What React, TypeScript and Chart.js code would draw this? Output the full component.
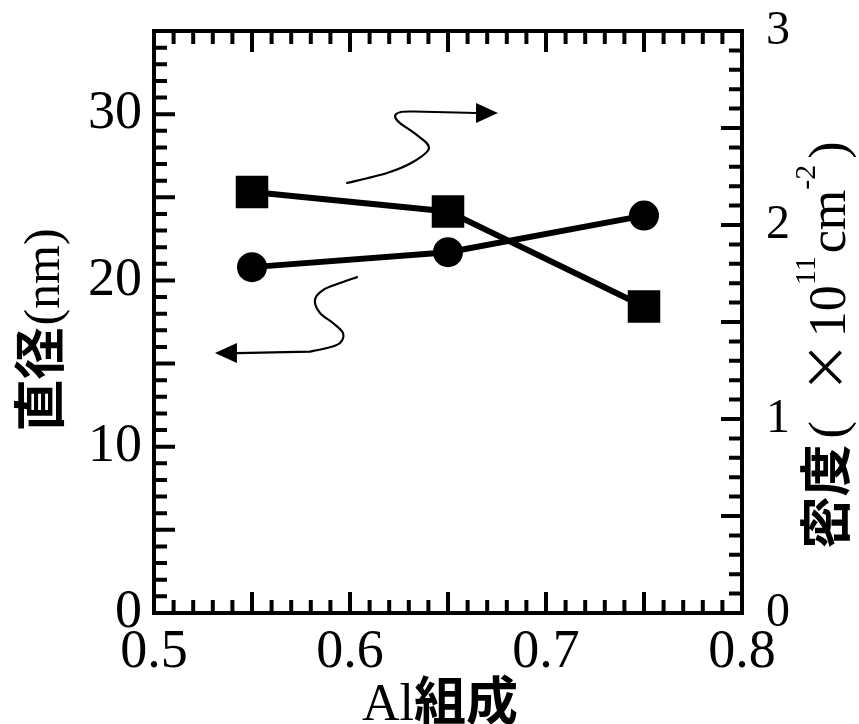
import React, { useEffect, useRef } from 'react';
import { Chart, registerables } from 'chart.js';

Chart.register(...registerables);

// ---- data ----
const alComposition = [0.55, 0.65, 0.75];
const diameterNm = [20.8, 21.7, 23.9];
const densityE11 = [2.17, 2.07, 1.58];

const xTickValues = [0.5, 0.6, 0.7, 0.8];
const leftTickValues = [0, 10, 20, 30];
const rightTickValues = [0, 1, 2, 3];

// annotation arrows, in data units (x = Al composition, y = diameter axis)
const densityArrowCurve = [
  [0.5985, 25.86], [0.6189, 26.46], [0.6321, 27.12], [0.6403, 27.96],
  [0.6342, 28.74], [0.6255, 29.46], [0.623, 29.89], [0.626, 30.13], [0.6327, 30.16],
];
const densityArrowShaftEnd = [0.6643, 30.07];
const densityArrowTip = [0.6755, 30.07];

const diameterArrowCurve = [
  [0.6036, 20.2], [0.5949, 19.84], [0.5862, 19.42], [0.5821, 18.82],
  [0.5847, 18.04], [0.5913, 17.44], [0.5964, 16.84], [0.5949, 16.24],
  [0.5883, 15.94], [0.5796, 15.72],
];
const diameterArrowShaftEnd = [0.5423, 15.63];
const diameterArrowTip = [0.5311, 15.63];

const SERIF = '"Liberation Serif", "Times New Roman", serif';
const CJK = '"Noto Sans CJK JP", "Noto Sans CJK SC", sans-serif';

type Run = { text: string; font: string; dy?: number; gap?: number };

function drawRuns(ctx: CanvasRenderingContext2D, runs: Run[], cx: number, cy: number, rotate: boolean) {
  ctx.save();
  ctx.translate(cx, cy);
  if (rotate) ctx.rotate(-Math.PI / 2);
  ctx.textBaseline = 'alphabetic';
  ctx.textAlign = 'left';
  ctx.fillStyle = '#000';
  let total = 0;
  const widths = runs.map((r) => {
    ctx.font = r.font;
    const w = ctx.measureText(r.text).width;
    total += (r.gap || 0) + w;
    return w;
  });
  let x = -total / 2;
  runs.forEach((r, i) => {
    x += r.gap || 0;
    ctx.font = r.font;
    ctx.fillText(r.text, x, r.dy || 0);
    x += widths[i];
  });
  ctx.restore();
}

function drawArrow(chart: any, curve: number[][], shaftEnd: number[], tip: number[]) {
  const ctx: CanvasRenderingContext2D = chart.ctx;
  const xs = chart.scales.x;
  const ys = chart.scales.y;
  const P = (p: number[]) => [xs.getPixelForValue(p[0]), ys.getPixelForValue(p[1])];
  const pts = curve.map(P);
  ctx.save();
  ctx.strokeStyle = '#000';
  ctx.lineWidth = 2.2;
  ctx.lineCap = 'round';
  ctx.beginPath();
  ctx.moveTo(pts[0][0], pts[0][1]);
  for (let i = 0; i < pts.length - 1; i++) {
    const p0 = pts[i - 1] || pts[i];
    const p1 = pts[i];
    const p2 = pts[i + 1];
    const p3 = pts[i + 2] || p2;
    ctx.bezierCurveTo(
      p1[0] + (p2[0] - p0[0]) / 6, p1[1] + (p2[1] - p0[1]) / 6,
      p2[0] - (p3[0] - p1[0]) / 6, p2[1] - (p3[1] - p1[1]) / 6,
      p2[0], p2[1]
    );
  }
  const se = P(shaftEnd);
  const tp = P(tip);
  ctx.lineTo(se[0], se[1]);
  ctx.stroke();
  ctx.fillStyle = '#000';
  ctx.beginPath();
  ctx.moveTo(tp[0], tp[1]);
  ctx.lineTo(se[0], se[1] - 10);
  ctx.lineTo(se[0], se[1] + 10);
  ctx.closePath();
  ctx.fill();
  ctx.restore();
}

const decorPlugin = {
  id: 'decor',
  afterDatasetsDraw(chart: any) {
    const ctx: CanvasRenderingContext2D = chart.ctx;
    const { left, right, top, bottom } = chart.chartArea;
    const xs = chart.scales.x;
    const ys = chart.scales.y;
    const y1 = chart.scales.y1;
    ctx.save();
    ctx.strokeStyle = '#000';
    ctx.lineWidth = 4;
    ctx.lineCap = 'butt';
    const minor = 13;
    const major = 21;
    ctx.beginPath();
    for (let k = 1; k < 30; k++) {
      const v = 0.5 + k * 0.01;
      const px = xs.getPixelForValue(v);
      const len = k % 5 === 0 ? major : minor;
      ctx.moveTo(px, bottom); ctx.lineTo(px, bottom - len);
      ctx.moveTo(px, top); ctx.lineTo(px, top + len);
    }
    for (let k = 1; k < 35; k++) {
      const py = ys.getPixelForValue(k);
      const len = k % 5 === 0 ? major : minor;
      ctx.moveTo(left, py); ctx.lineTo(left + len, py);
    }
    for (let k = 1; k < 30; k++) {
      const py = y1.getPixelForValue(k / 10);
      const len = k % 5 === 0 ? major : minor;
      ctx.moveTo(right, py); ctx.lineTo(right - len, py);
    }
    ctx.stroke();
    ctx.strokeRect(left, top, right - left, bottom - top);
    ctx.restore();

    drawArrow(chart, densityArrowCurve, densityArrowShaftEnd, densityArrowTip);
    drawArrow(chart, diameterArrowCurve, diameterArrowShaftEnd, diameterArrowTip);

    const cjkB = `bold 52px ${CJK}`;
    const serif = `52px ${SERIF}`;
    const sup = `30px ${SERIF}`;
    drawRuns(ctx, [
      { text: 'Al', font: serif },
      { text: '組成', font: cjkB },
    ], (left + right) / 2 - 8, 720, false);
    drawRuns(ctx, [
      { text: '直径', font: cjkB },
      { text: '(nm)', font: `50px ${SERIF}`, gap: 2 },
    ], 59, 330, true);
    drawRuns(ctx, [
      { text: '密度', font: cjkB },
      { text: '(', font: serif, gap: 6 },
      { text: '×', font: `52px ${CJK}`, gap: 28 },
      { text: '10', font: serif, gap: 4 },
      { text: '11', font: sup, dy: -30 },
      { text: 'cm', font: serif, gap: 3 },
      { text: '-2', font: sup, dy: -30 },
      { text: ')', font: serif, gap: 6 },
    ], 845, 345, true);
  },
};

export default function App() {
  const ref = useRef<HTMLCanvasElement | null>(null);
  useEffect(() => {
    if (!ref.current) return;
    const tickFont = { family: SERIF, size: 54, lineHeight: 1 };
    const noPadV = (s: any) => { s.paddingTop = 0; s.paddingBottom = 0; };
    const noPadH = (s: any) => { s.paddingLeft = 0; s.paddingRight = 0; };
    const chart = new Chart(ref.current, {
      type: 'line',
      data: {
        datasets: [
          {
            label: '直径',
            data: alComposition.map((x, i) => ({ x, y: diameterNm[i] })),
            yAxisID: 'y',
            borderColor: '#000',
            borderWidth: 6,
            pointStyle: 'circle',
            pointRadius: 15,
            pointBackgroundColor: '#000',
            pointBorderWidth: 0,
            tension: 0,
          },
          {
            label: '密度',
            data: alComposition.map((x, i) => ({ x, y: densityE11[i] })),
            yAxisID: 'y1',
            borderColor: '#000',
            borderWidth: 6,
            pointStyle: 'rect',
            pointRadius: 23,
            pointBackgroundColor: '#000',
            pointBorderWidth: 0,
            tension: 0,
          },
        ],
      },
      options: {
        responsive: false,
        maintainAspectRatio: false,
        animation: false,
        layout: { padding: 0 },
        plugins: { legend: { display: false }, tooltip: { enabled: false } },
        scales: {
          x: {
            type: 'linear',
            position: 'bottom',
            min: 0.5,
            max: 0.8,
            grid: { display: false },
            border: { display: false },
            afterBuildTicks: (s: any) => { s.ticks = xTickValues.map((v) => ({ value: v })); },
            ticks: { color: '#000', font: tickFont, padding: 5, maxRotation: 0, autoSkip: false, callback: (v: any) => Number(v).toFixed(1) },
            afterFit: (s: any) => { s.height = 111; noPadH(s); },
          },
          xTop: {
            type: 'linear',
            position: 'top',
            min: 0.5,
            max: 0.8,
            grid: { display: false },
            border: { display: false },
            ticks: { display: false },
            afterFit: (s: any) => { s.height = 31; noPadH(s); },
          },
          y: {
            type: 'linear',
            position: 'left',
            min: 0,
            max: 35,
            grid: { display: false },
            border: { display: false },
            afterBuildTicks: (s: any) => { s.ticks = leftTickValues.map((v) => ({ value: v })); },
            ticks: { color: '#000', font: tickFont, padding: 4, autoSkip: false },
            afterFit: (s: any) => { s.width = 154; noPadV(s); },
          },
          y1: {
            type: 'linear',
            position: 'right',
            min: 0,
            max: 3,
            grid: { display: false },
            border: { display: false },
            afterBuildTicks: (s: any) => { s.ticks = rightTickValues.map((v) => ({ value: v })); },
            ticks: { color: '#000', font: { family: SERIF, size: 48, lineHeight: 1 }, padding: 16, autoSkip: false },
            afterFit: (s: any) => { s.width = 117; noPadV(s); },
          },
        },
      },
      plugins: [decorPlugin],
    } as any);
    return () => chart.destroy();
  }, []);
  return (
    <div style={{ position: 'fixed', left: 0, top: 0, width: 859, height: 724, background: '#fff' }}>
      <canvas ref={ref} width={859} height={724} style={{ width: 859, height: 724, display: 'block' }} />
    </div>
  );
}
